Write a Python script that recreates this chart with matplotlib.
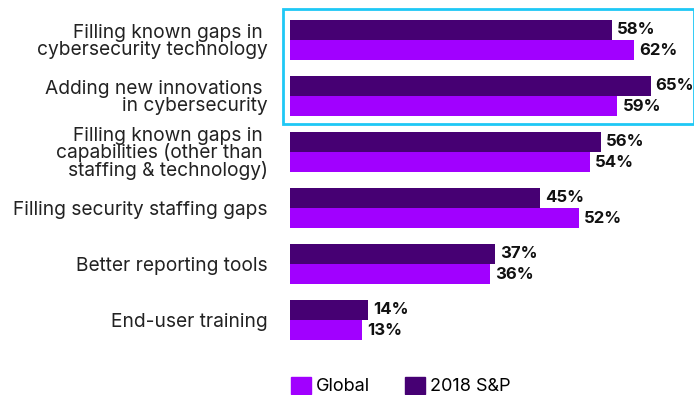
import matplotlib

matplotlib.use("Agg")

import matplotlib.pyplot as plt
import numpy as np
from matplotlib.patches import Patch, Rectangle

categories = [
    "Filling known gaps in \ncybersecurity technology",
    "Adding new innovations \nin cybersecurity",
    "Filling known gaps in \ncapabilities (other than \nstaffing & technology)",
    "Filling security staffing gaps",
    "Better reporting tools",
    "End-user training",
]
sp2018 = [58, 65, 56, 45, 37, 14]
global_vals = [62, 59, 54, 52, 36, 13]

DARK = "#460073"
LIGHT = "#a100ff"
BOX = "#1ec8f5"

plt.rcParams["font.family"] = ["Inter", "DejaVu Sans"]

W, H = 694, 395
fig = plt.figure(figsize=(W / 100, H / 100), dpi=100)
# axes spans x 290..694 px, y 12..348 px
ax = fig.add_axes([290 / W, 1 - 348 / H, 404 / W, 336 / H])

y = np.arange(len(categories))
bh = 0.366
ax.barh(y - bh / 2, sp2018, height=bh, color=DARK, label="2018 S&P")
ax.barh(y + bh / 2, global_vals, height=bh, color=LIGHT, label="Global")

for yi, v in zip(y, sp2018):
    ax.text(v + 0.9, yi - bh / 2, f"{v}%", va="center", ha="left",
            fontsize=12, fontweight="bold", color="#111111")
for yi, v in zip(y, global_vals):
    ax.text(v + 0.9, yi + bh / 2, f"{v}%", va="center", ha="left",
            fontsize=12, fontweight="bold", color="#111111")

ax.set_xlim(0, 404 / 5.55)
ax.set_ylim(len(categories) - 0.5, -0.5)
ax.set_yticks(y)
ax.set_yticklabels(categories, fontsize=13.8, color="#222222",
                   multialignment="right", linespacing=0.92)
ax.tick_params(axis="y", length=0, pad=16)
ax.set_xticks([])
for s in ax.spines.values():
    s.set_visible(False)

# highlight frame around the two technology-related items
ax.add_patch(Rectangle((283 / W, 1 - 124 / H), (W - 283) / W, 115 / H,
                       transform=fig.transFigure, fill=False,
                       edgecolor=BOX, linewidth=2, clip_on=False))

handles = [Patch(color=LIGHT, label="Global"), Patch(color=DARK, label="2018 S&P")]
fig.legend(handles=handles, loc="center left", bbox_to_anchor=(291 / W, 1 - 386 / H),
           ncol=2, frameon=False, fontsize=13, handlelength=1.1, handleheight=1.1,
           handletextpad=0.3, columnspacing=1.9, borderaxespad=0, borderpad=0)

fig.savefig("out.png", dpi=100)
